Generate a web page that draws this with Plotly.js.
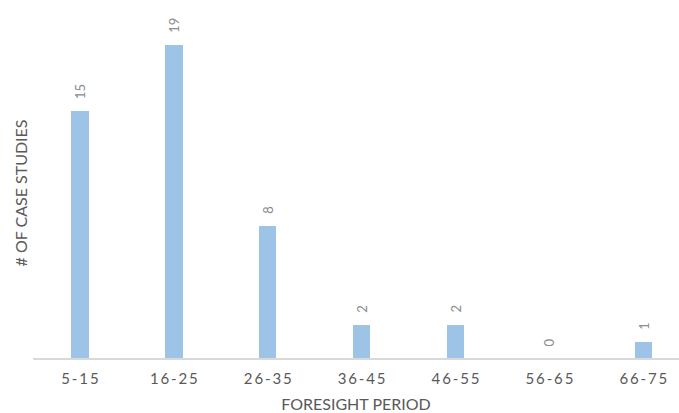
<!DOCTYPE html>
<html>
<head>
<meta charset="utf-8">
<script src="https://cdn.plot.ly/plotly-3.0.1.min.js"></script>
<style>
  html, body { margin: 0; padding: 0; background: #fff; }
  #chart { width: 679px; height: 413px; }
</style>
</head>
<body>
<div id="chart"></div>
<script>
// Foresight periods (years) and number of case studies in each
const periods = ["5-15", "16-25", "26-35", "36-45", "46-55", "56-65", "66-75"];
const caseCounts = [15, 19, 8, 2, 2, 0, 1];

const grey = "#595959";
const labelGrey = "#8c8c8c";
const fontFam = "Lato, 'Open Sans', sans-serif";

// spaced-out tick text
const spaced = s => s.split("").join("\u2009");

const trace = {
  type: "bar",
  x: periods.map((_, i) => i),
  y: caseCounts,
  width: 0.186,
  marker: { color: "#9dc3e6" },
  hoverinfo: "x+y"
};

// rotated value labels above each bar
const annotations = caseCounts.map((v, i) => ({
  x: i, y: v, xref: "x", yref: "y",
  text: String(v),
  textangle: -90,
  showarrow: false,
  xanchor: "center", yanchor: "bottom",
  yshift: 10,
  font: { family: fontFam, size: 13, color: labelGrey }
}));

const layout = {
  width: 679, height: 413,
  margin: { l: 33, r: 0, t: 28, b: 55 },
  paper_bgcolor: "#fff", plot_bgcolor: "#fff",
  showlegend: false,
  bargap: 0,
  xaxis: {
    range: [-0.5, 6.38],
    tickmode: "array",
    tickvals: periods.map((_, i) => i),
    ticktext: periods.map(spaced),
    showgrid: false, zeroline: false,
    showline: true, linecolor: "#d9d9d9", linewidth: 1.5,
    ticks: "", ticklen: 0,
    ticklabelstandoff: 6,
    tickfont: { family: fontFam, size: 15, color: grey },
    title: { text: "FORESIGHT PERIOD", standoff: 18,
             font: { family: fontFam, size: 16, color: grey } }
  },
  yaxis: {
    range: [0, 20],
    showgrid: false, zeroline: false, showline: false,
    showticklabels: false, ticks: "",
    title: { text: "# OF CASE STUDIES", standoff: 0,
             font: { family: fontFam, size: 16, color: grey } }
  },
  annotations: annotations
};

Plotly.newPlot("chart", [trace], layout, { displayModeBar: false, staticPlot: true });
</script>
</body>
</html>
